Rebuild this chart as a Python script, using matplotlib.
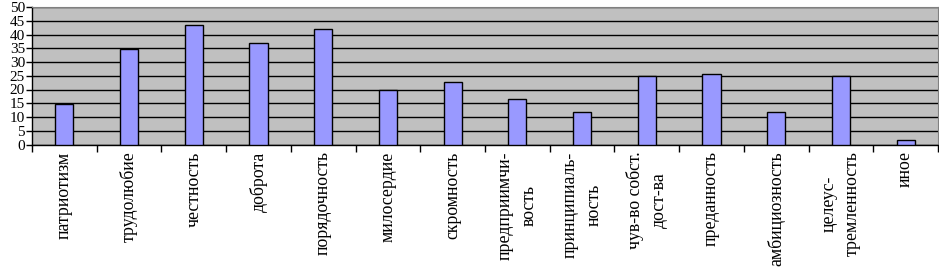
import matplotlib
matplotlib.use("Agg")
import matplotlib.pyplot as plt
from matplotlib import font_manager
import numpy as np

categories = ["патриотизм", "трудолюбие", "честность", "доброта", "порядочность",
              "милосердие", "скромность", "предприимчи-\nвость", "принципиаль-\nность",
              "чув-во собст.\nдост-ва", "преданность", "амбициозность",
              "целеус-\nтремленность", "иное"]
values = [14.7, 34.6, 43.3, 36.8, 42.0, 19.9, 22.8, 16.5, 12.0, 24.8, 25.6, 12.0, 24.8, 1.7]
yticks = list(range(0, 51, 5))

names = sorted({f.name for f in font_manager.fontManager.ttflist})
serif = 'Liberation Serif' if 'Liberation Serif' in names else 'DejaVu Serif'
plt.rcParams['font.family'] = [serif, 'DejaVu Serif']

fig = plt.figure(figsize=(9.39, 2.70), dpi=100)
ax = fig.add_axes([32/939, 1 - 144.5/270, (938-32)/939, (144.5-7)/270])

x = np.arange(len(categories))
ax.set_facecolor('#C0C0C0')
ax.bar(x, values, width=0.28, color='#9999FF', edgecolor='black', linewidth=1.0, zorder=3)

ax.set_xlim(-0.5, len(categories) - 0.5)
ax.set_ylim(0, 50)
ax.set_yticks(yticks)
ax.set_yticklabels([str(v) for v in yticks], fontsize=11, family=serif)
ax.yaxis.grid(True, color='black', linewidth=1.0, zorder=1)
ax.set_axisbelow(True)

ax.set_xticks(x)
ax.set_xticklabels(categories, rotation=90, fontsize=12.8, ha='center', va='top',
                   multialignment='center', family=serif, linespacing=1.5)
ax.tick_params(axis='x', which='major', length=0, pad=5)
ax.set_xticks(np.arange(-0.5, len(categories), 1), minor=True)
ax.tick_params(axis='x', which='minor', length=5, width=1, color='black', direction='out')
ax.tick_params(axis='y', length=4, width=1, direction='out', pad=1)

for s in ['top', 'right']:
    ax.spines[s].set_color('#808080')
for s in ['left', 'bottom']:
    ax.spines[s].set_color('black')
    ax.spines[s].set_linewidth(1.0)

fig.savefig('out.png', dpi=100, facecolor='white')
